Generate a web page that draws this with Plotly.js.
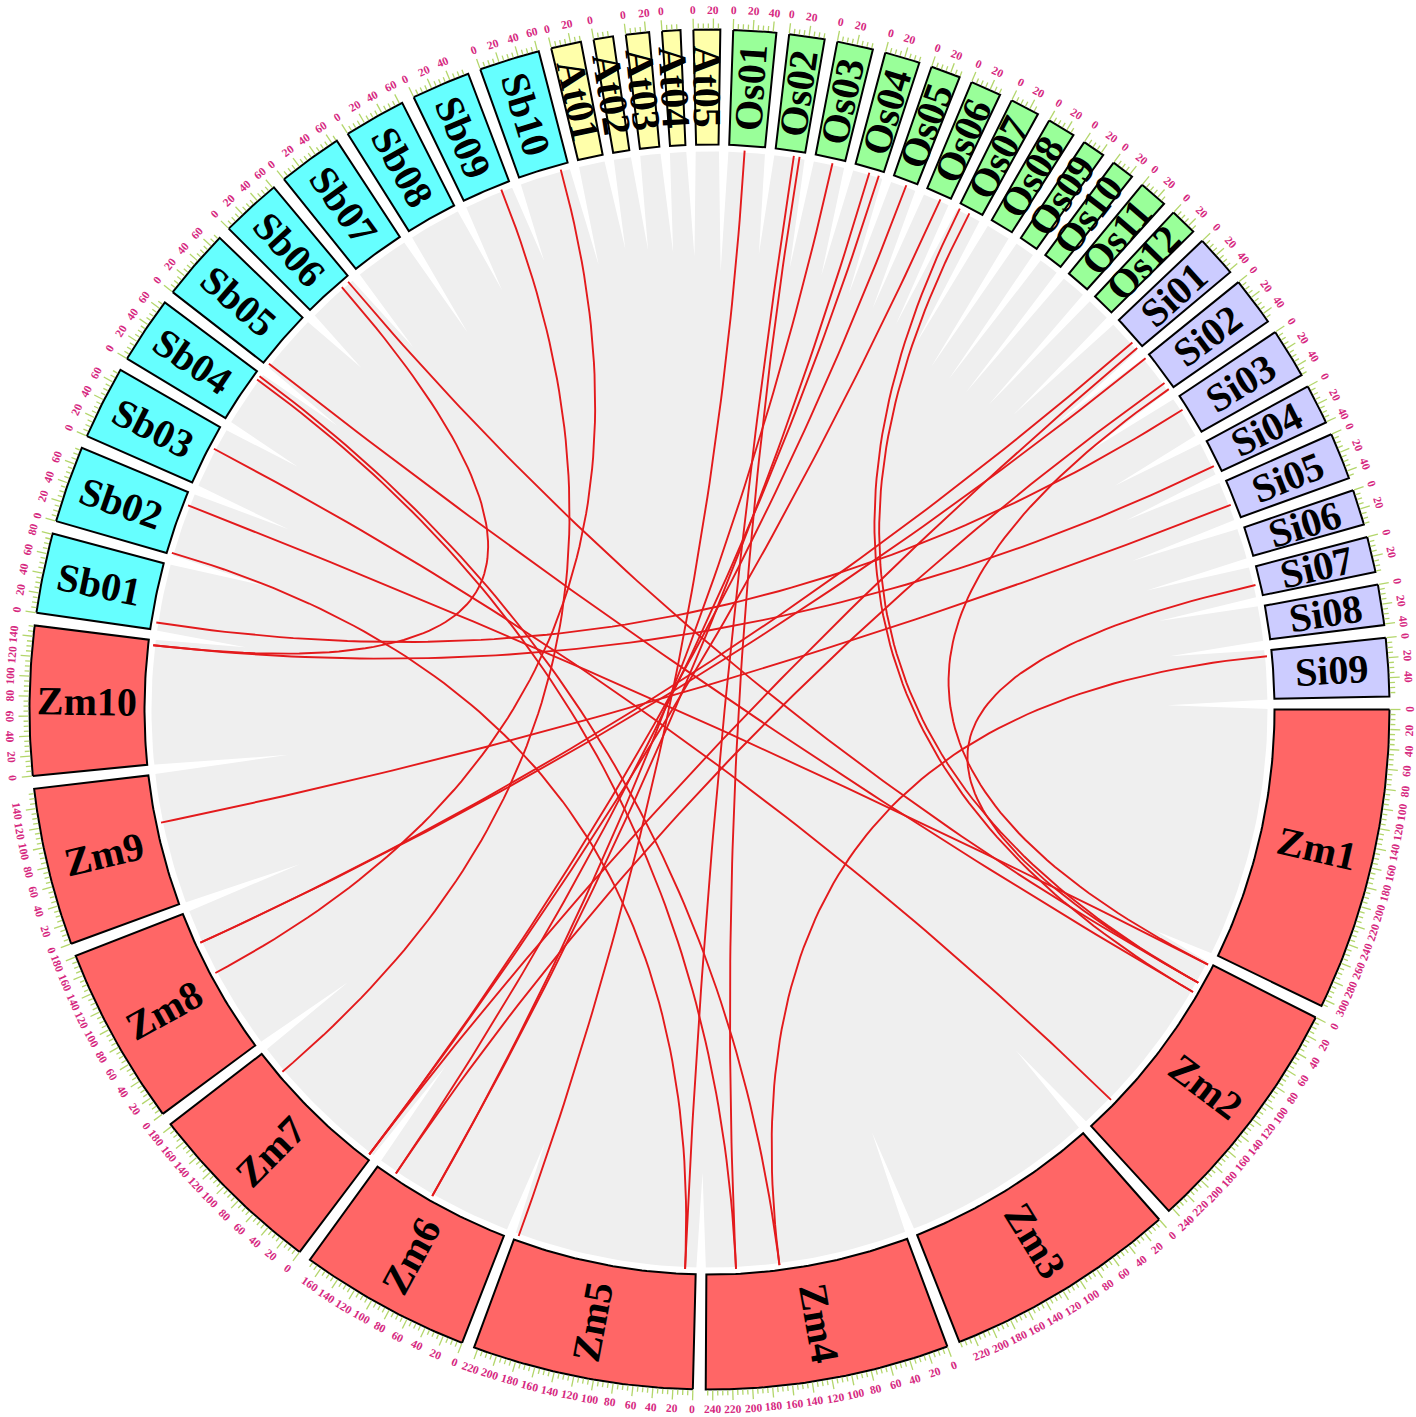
<!DOCTYPE html>
<html><head><meta charset="utf-8">
<script src="https://cdn.plot.ly/plotly-3.0.1.min.js"></script>
<style>html,body{margin:0;padding:0;background:#fff}</style>
</head><body>
<div id="chart" style="width:1416px;height:1417px"></div>
<script>
// ---------------- DATA ----------------
const chromNames = ['Zm1','Zm2','Zm3','Zm4','Zm5','Zm6','Zm7','Zm8','Zm9','Zm10',
  'Sb01','Sb02','Sb03','Sb04','Sb05','Sb06','Sb07','Sb08','Sb09','Sb10',
  'At01','At02','At03','At04','At05',
  'Os01','Os02','Os03','Os04','Os05','Os06','Os07','Os08','Os09','Os10','Os11','Os12',
  'Si01','Si02','Si03','Si04','Si05','Si06','Si07','Si08','Si09'];
const chromLengthsMb = [307.0,244.4,235.7,247.0,223.9,174.0,182.4,181.1,159.8,151.0,
  80.9,77.7,74.4,68.0,71.9,61.3,65.5,62.7,59.4,61.2,
  30.4,19.7,23.5,18.6,27.0,
  43.3,35.9,36.4,35.5,30.0,31.2,29.7,28.4,23.0,23.2,29.0,27.5,
  42.1,49.2,50.6,40.4,47.3,36.0,35.9,41.0,59.0];
const speciesPrefix = ['Zm','Sb','At','Os','Si'];
const speciesFill   = ['#ff6666','#66ffff','#ffffaa','#99ff99','#ccccff'];

// collinear gene pairs (chromosome, position in Mb)
const linkChrA = ['Sb09','Sb10','Sb06','Sb06','Sb05','Sb04','Sb04','Sb03','Sb02','Sb02','Sb01',
  'Os01','Os02','Os02','Os03','Os04','Os04','Os05','Os06','Os07','Os07',
  'Si01','Si01','Si02','Si02','Si02','Si04','Si05','Si07','Si09'];
const linkPosA = [47,51,47,57,3,60,65,48,63,2,9,
  19,23,30,22,19,31,18,20,2,15,
  31,40,1,39,48,31,29,22,7];
const linkChrB = ['Zm7','Zm8','Zm10','Zm2','Zm2','Zm4','Zm4','Zm2','Zm2','Zm5','Si03',
  'Zm5','Zm5','Zm4','Zm6','Zm6','Zm6','Zm7','Zm7','Zm2','Zm2',
  'Zm8','Zm7','Zm8','Zm6','Zm2','Zm10','Zm9','Zm2','Zm4'];
const linkPosB = [150,100,145,27,40,211,158,205,2,13,16,
  220,13,211,99,99,151,4,4,40,27,
  141,4,141,151,2,145,101,27,158];

// length (px) of the white wedge opening at each gap (gap after each chromosome)
const gapWedgeLen = [60,100,105,95,95,115,105,120,135,90,
  95,100,80,90,70,90,110,90,80,100,
  90,95,100,105,120,
  100,110,110,120,125,130,140,150,150,150,145,135,
  110,100,95,100,110,105,100,95,100];

// ---------------- GEOMETRY ----------------
const GAP = 1.085;                 // degrees between chromosomes
const R_DISC = 558, R_LINK = 560, R_IN = 565, R_OUT = 680;
const R_TICKLAB = 700, R_NAME = 623;
const n = chromNames.length;
const totalMb = chromLengthsMb.reduce((a,b)=>a+b,0);
const SCALE = (360 - GAP*n) / totalMb;
const startAng = [];
{ let acc = 0; for (let i=0;i<n;i++){ startAng.push(acc); acc += chromLengthsMb[i]*SCALE + GAP; } }
const idx = {}; chromNames.forEach((c,i)=>idx[c]=i);
function ang(name,pos){ const i=idx[name]; return startAng[i] + pos*SCALE; }
function xy(r,a){ const t=a*Math.PI/180; return [r*Math.cos(t), -r*Math.sin(t)]; }
function normRadial(a){ let t=((a%360)+360)%360; if (t>90 && t<=270) return t-180; if (t>270) return t-360; return t; }
function normTangent(a){ let t=(((a-90)%360)+360)%360; if (t>=90 && t<270) return t-180; if (t>=270) return t-360; return t; }

const traces = [];
// background disc
{ const x=[],y=[]; for(let j=0;j<=360;j++){ const p=xy(R_DISC,j); x.push(p[0]); y.push(p[1]); }
  traces.push({x,y,mode:'lines',fill:'toself',fillcolor:'#efefef',line:{width:0,color:'#efefef'},hoverinfo:'skip',showlegend:false}); }
// white wedges at gaps
{ const x=[],y=[];
  for (let i=0;i<n;i++){
    const aEnd = startAng[i] + chromLengthsMb[i]*SCALE;
    const aMid = aEnd + GAP/2;
    const p1=xy(R_DISC+2,aEnd+0.05), p2=xy(R_DISC+2,aEnd+GAP-0.05), p3=xy(R_DISC-gapWedgeLen[i],aMid);
    x.push(p1[0],p2[0],p3[0],p1[0],null); y.push(p1[1],p2[1],p3[1],p1[1],null);
  }
  traces.push({x,y,mode:'lines',fill:'toself',fillcolor:'#ffffff',line:{width:0,color:'#ffffff'},hoverinfo:'skip',showlegend:false}); }
// links (quadratic Bezier through centre)
{ const x=[],y=[];
  for (let k=0;k<linkChrA.length;k++){
    const p0=xy(R_LINK,ang(linkChrA[k],linkPosA[k])), p2=xy(R_LINK,ang(linkChrB[k],linkPosB[k]));
    for (let j=0;j<=80;j++){ const t=j/80,u=1-t; x.push(u*u*p0[0]+t*t*p2[0]); y.push(u*u*p0[1]+t*t*p2[1]); }
    x.push(null); y.push(null);
  }
  traces.push({x,y,mode:'lines',line:{color:'#e31a1c',width:1.9},hoverinfo:'skip',showlegend:false}); }
// chromosome blocks per species
speciesPrefix.forEach((sp,si)=>{
  const x=[],y=[];
  for (let i=0;i<n;i++){
    if (!chromNames[i].startsWith(sp)) continue;
    const a0=startAng[i], a1=a0+chromLengthsMb[i]*SCALE;
    const steps=Math.max(4,Math.ceil((a1-a0)*2));
    for(let j=0;j<=steps;j++){ const p=xy(R_OUT,a0+(a1-a0)*j/steps); x.push(p[0]); y.push(p[1]); }
    for(let j=steps;j>=0;j--){ const p=xy(R_IN,a0+(a1-a0)*j/steps); x.push(p[0]); y.push(p[1]); }
    const p=xy(R_OUT,a0); x.push(p[0],null); y.push(p[1],null);
  }
  traces.push({x,y,mode:'lines',fill:'toself',fillcolor:speciesFill[si],line:{color:'#000',width:2},hoverinfo:'skip',showlegend:false});
});
// ticks
{ const xm=[],ym=[];
  for (let i=0;i<n;i++){
    for (let v=0; v<=chromLengthsMb[i]+0.01; v+=5){
      const a=ang(chromNames[i],v); const L = (v%20===0)?10:5;
      const p1=xy(R_OUT+1,a), p2=xy(R_OUT+1+L,a);
      xm.push(p1[0],p2[0],null); ym.push(p1[1],p2[1],null);
    }
  }
  traces.push({x:xm,y:ym,mode:'lines',line:{color:'#b3d66b',width:1.3},hoverinfo:'skip',showlegend:false}); }

const annotations = [];
for (let i=0;i<n;i++){
  for (let v=0; v<=chromLengthsMb[i]; v+=20){
    const a=ang(chromNames[i],v); const p=xy(R_TICKLAB,a);
    annotations.push({x:p[0],y:p[1],xref:'x',yref:'y',text:'<b>'+v+'</b>',showarrow:false,
      textangle:normTangent(a),xanchor:'center',yanchor:'middle',
      font:{family:'Liberation Serif, Times New Roman, serif',size:11.5,color:'#d6287f'}});
  }
  const am = startAng[i] + chromLengthsMb[i]*SCALE/2; const p=xy(R_NAME,am);
  annotations.push({x:p[0],y:p[1],xref:'x',yref:'y',text:'<b>'+chromNames[i]+'</b>',showarrow:false,
    textangle:normRadial(am),xanchor:'center',yanchor:'middle',
    font:{family:'Liberation Serif, Times New Roman, serif',size:40,color:'#000'}});
}

const layout = {
  width:1416,height:1417,margin:{l:0,r:0,t:0,b:0},
  paper_bgcolor:'#fff',plot_bgcolor:'#fff',showlegend:false,
  xaxis:{range:[-709.5,706.5],visible:false,fixedrange:true},
  yaxis:{range:[-707.5,709.5],visible:false,fixedrange:true},
  annotations
};
Plotly.newPlot('chart',traces,layout,{staticPlot:true,displayModeBar:false});
</script>
</body></html>
